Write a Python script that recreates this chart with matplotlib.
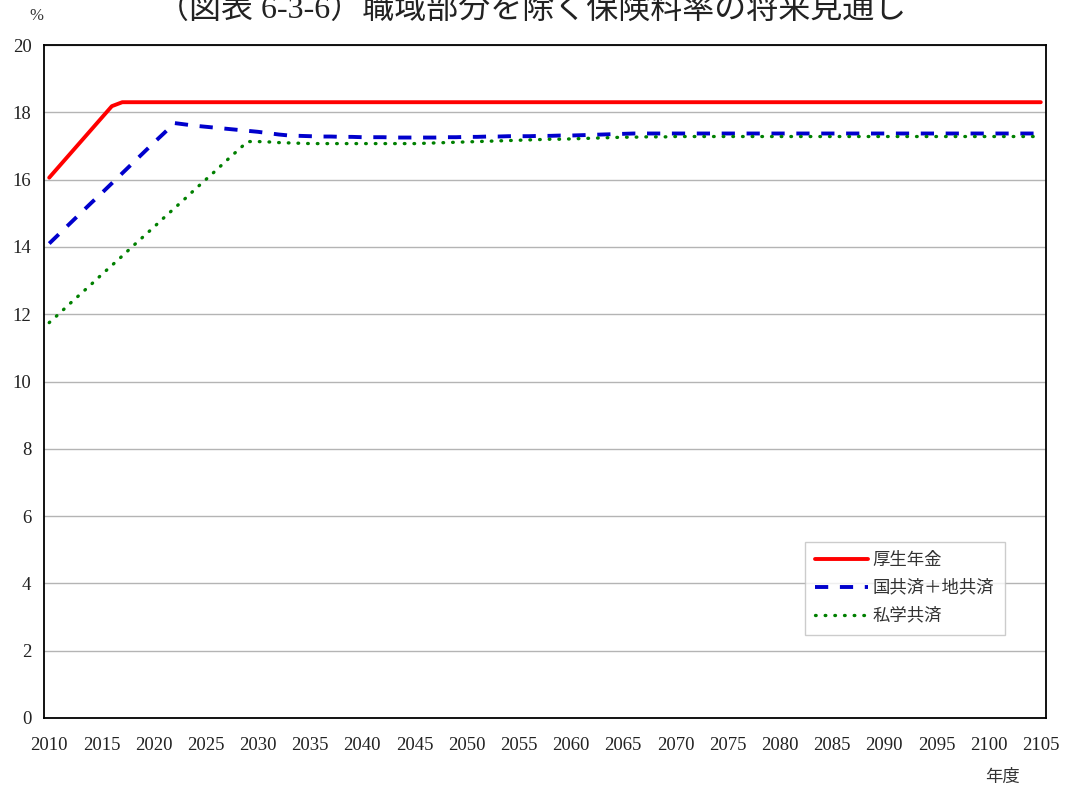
import numpy as np
import matplotlib
matplotlib.use("Agg")
import matplotlib.pyplot as plt

plt.rcParams['font.family'] = ['Liberation Serif', 'Noto Sans CJK JP', 'DejaVu Sans']

years = list(range(2010, 2106))

# 厚生年金
kousei = [16.058, 16.412, 16.766, 17.120, 17.474, 17.828, 18.182] + [18.3] * 89

# 国共済＋地共済
kokukyo = [14.10, 14.40, 14.70, 15.00, 15.30, 15.59, 15.89, 16.19, 16.49, 16.79,
           17.09, 17.38, 17.68, 17.64, 17.60, 17.57, 17.54, 17.51, 17.48, 17.45,
           17.42, 17.38, 17.34, 17.31, 17.30, 17.29, 17.28, 17.28, 17.27, 17.27,
           17.26, 17.26, 17.26, 17.25, 17.25, 17.25, 17.25, 17.25, 17.26, 17.26,
           17.27, 17.27, 17.28, 17.28, 17.29, 17.29, 17.29, 17.30, 17.30, 17.31,
           17.31, 17.32, 17.33, 17.34, 17.35, 17.36] + [17.37] * 40

# 私学共済
shigaku = [11.75, 12.03, 12.32, 12.60, 12.88, 13.17, 13.45, 13.73, 14.02, 14.30,
           14.58, 14.87, 15.15, 15.43, 15.72, 16.00, 16.28, 16.57, 16.85, 17.13,
           17.13, 17.12, 17.10, 17.09, 17.08, 17.07, 17.07, 17.07, 17.07, 17.07,
           17.07, 17.07, 17.07, 17.07, 17.07, 17.07, 17.08, 17.09, 17.10, 17.11,
           17.12, 17.13, 17.14, 17.15, 17.16, 17.17, 17.18, 17.19, 17.20, 17.20,
           17.21, 17.22, 17.23, 17.24, 17.25, 17.26, 17.26, 17.27, 17.27, 17.27,
           17.28] + [17.28] * 35

xticks = list(range(2010, 2106, 5))
yticks = list(range(0, 21, 2))

fig = plt.figure(figsize=(10.69, 7.92), dpi=100)
ax = fig.add_axes([44 / 1069, 1 - 718 / 792, (1046 - 44) / 1069, (718 - 45) / 792])

ax.plot(years, kousei, color='#ff0000', lw=2.8, label='厚生年金', solid_capstyle='round')
ax.plot(years, kokukyo, color='#0000cc', lw=2.8, dashes=(3.4, 3.0), label='国共済＋地共済')
ax.plot(years, shigaku, color='#008000', lw=2.4, dashes=(0.2, 2.7),
        dash_capstyle='round', label='私学共済')

ax.set_xlim(2009.5, 2105.5)
ax.set_ylim(0, 20)
ax.set_xticks(xticks)
ax.set_yticks(yticks)
ax.tick_params(length=0, labelsize=13.5, colors='#222222')
ax.tick_params(axis='x', pad=14)
ax.tick_params(axis='y', pad=9)
ax.yaxis.grid(True, color='#b4b4b4', lw=1.0)
ax.set_axisbelow(True)
for s in ax.spines.values():
    s.set_color('black')
    s.set_linewidth(1.3)

leg = ax.legend(loc='lower left', bbox_to_anchor=((805 - 44) / 1002, (718 - 635) / 673),
                frameon=True, fancybox=False, edgecolor='#c0c0c0', fontsize=12.5,
                handlelength=3.0, borderpad=0.6, labelspacing=0.65, handletextpad=0.3,
                borderaxespad=0)
leg.get_frame().set_linewidth(1.0)
for t in leg.get_texts():
    t.set_color('#333333')

fig.text(532 / 1069, 1 - 10 / 792, '（図表 6-3-6）職域部分を除く保険料率の将来見通し',
         ha='center', va='center', fontsize=23, color='#222222')
fig.text(36 / 1069, 1 - 16 / 792, '%', ha='center', va='center', fontsize=12, color='#333333')
fig.text(1003 / 1069, 1 - 778 / 792, '年度', ha='center', va='center', fontsize=12.5, color='#333333')

fig.savefig('out.png', dpi=100)
